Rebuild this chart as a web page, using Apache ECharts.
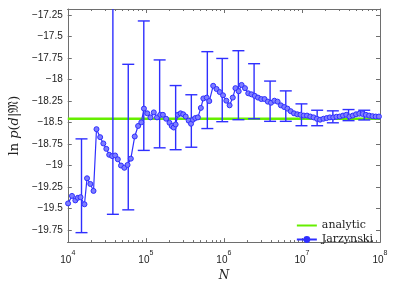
<!DOCTYPE html>
<html><head><meta charset="utf-8">
<script src="https://cdn.jsdelivr.net/npm/echarts@6/dist/echarts.min.js"></script>
<style>html,body{margin:0;padding:0;background:#fff}#c{width:395px;height:287px}</style>
</head><body><div id="c"></div>
<script>
// log10(N) of the Jarzynski estimates
const jarzLog10N = [4.004,4.054,4.097,4.129,4.163,4.214,4.247,4.289,4.330,4.368,4.415,4.456,4.494,4.531,4.569,4.607,4.641,
4.682,4.725,4.766,4.808,4.858,4.901,4.942,4.976,5.018,5.059,5.102,5.143,5.185,5.219,5.260,5.303,5.332,
5.357,5.382,5.411,5.445,5.479,5.511,5.549,5.579,5.604,5.633,5.667,5.705,5.737,5.780,5.813,5.863,5.906,5.947,5.989,
6.031,6.073,6.114,6.148,6.190,6.227,6.270,6.312,6.353,6.396,6.437,6.479,6.521,6.563,6.604,6.647,6.688,6.730,6.773,6.814,6.856,6.898,6.940,6.981,
7.024,7.065,7.107,7.149,7.191,7.232,7.275,7.317,7.358,7.401,7.442,7.484,7.526,7.568,7.609,7.652,7.693,7.735,7.778,7.819,7.861,7.903,7.945,7.986];
const jarzValues = [-19.44,-19.353,-19.405,-19.375,-19.368,-19.45,-19.148,-19.214,-19.295,-18.577,-18.67,-18.743,-18.806,-18.875,-18.89,-18.883,-18.927,
-19.0,-19.026,-18.993,-18.92,-18.662,-18.54,-18.497,-18.338,-18.393,-18.44,-18.382,-18.44,-18.41,-18.41,-18.456,-18.503,-18.54,
-18.558,-18.522,-18.41,-18.393,-18.404,-18.43,-18.478,-18.514,-18.467,-18.448,-18.44,-18.33,-18.22,-18.21,-18.25,-18.073,-18.11,-18.146,-18.183,
-18.246,-18.30,-18.21,-18.1,-18.136,-18.063,-18.1,-18.16,-18.172,-18.19,-18.21,-18.227,-18.227,-18.257,-18.27,-18.246,-18.257,-18.3,-18.32,-18.338,-18.368,-18.393,-18.404,-18.41,
-18.419,-18.419,-18.43,-18.44,-18.456,-18.467,-18.456,-18.448,-18.44,-18.44,-18.433,-18.43,-18.419,-18.41,-18.43,-18.419,-18.404,-18.397,-18.40,-18.41,-18.419,-18.426,-18.43,-18.43];
// error bars
const errLog10N = [4.176,4.578,4.775,4.974,5.177,5.382,5.583,5.788,5.979,6.186,6.387,6.592,6.793,6.994,7.195,7.396,7.597,7.798];
const errLow  = [-19.78,-19.567,-19.515,-18.824,-18.794,-18.816,-18.787,-18.57,-18.49,-18.467,-18.456,-18.486,-18.486,-18.537,-18.537,-18.503,-18.478,-18.47];
const errHigh = [-18.69,-17.0,-17.823,-17.319,-17.772,-18.07,-18.177,-17.676,-17.755,-17.665,-17.816,-18.018,-18.132,-18.283,-18.357,-18.364,-18.349,-18.357];
const analyticValue = -18.456;
const seriesNames = ['analytic','Jarzynski'];
const xMajorTicks = [1e4,1e5,1e6,1e7,1e8];
const xMinorTicks = [2e4,3e4,4e4,5e4,6e4,7e4,8e4,9e4,2e5,3e5,4e5,5e5,6e5,7e5,8e5,9e5,2e6,3e6,4e6,5e6,6e6,7e6,8e6,9e6,2e7,3e7,4e7,5e7,6e7,7e7,8e7,9e7];
const yTicks = [-19.75,-19.5,-19.25,-19,-18.75,-18.5,-18.25,-18,-17.75,-17.5,-17.25];
const X_MIN = 1e4, X_MAX = 1e8, Y_MIN = -19.89, Y_MAX = -17.18;

const BLUE = '#2f2fff', AXIS = '#6e6e6e', GREEN = '#66ee00';
const jarzData = jarzLog10N.map((e,i)=>[Math.pow(10,e), jarzValues[i]]);
const errData = errLog10N.map((e,i)=>[Math.pow(10,e), errLow[i], errHigh[i]]);

function xAxisCfg(pos, ticks, len, labels) {
  return {
    type:'log', logBase:10, min:X_MIN, max:X_MAX, position:pos,
    axisLine:{show:true, lineStyle:{color:AXIS,width:1}},
    axisTick:{show:true, inside:true, length:len, customValues:ticks, lineStyle:{color:AXIS}},
    axisLabel: labels ? {show:true, customValues:ticks, margin:7, color:'#222',
      formatter: v => '{b|10}{s|' + Math.round(Math.log10(v)) + '}',
      rich:{ b:{fontSize:10, fontFamily:'Liberation Sans', lineHeight:16, verticalAlign:'bottom', color:'#222'},
             s:{fontSize:7, fontFamily:'Liberation Sans', lineHeight:9, verticalAlign:'top', color:'#222'} } } : {show:false},
    splitLine:{show:false}, minorTick:{show:false}
  };
}
function yAxisCfg(pos, labels) {
  return {
    type:'value', min:Y_MIN, max:Y_MAX, position:pos,
    axisLine:{show:true, lineStyle:{color:AXIS,width:1}},
    axisTick:{show:true, inside:true, length:4, customValues:yTicks, lineStyle:{color:AXIS}},
    axisLabel: labels ? {show:true, customValues:yTicks, margin:5, color:'#222', fontSize:10, fontFamily:'Liberation Sans',
      formatter: v => String(v).replace('-', '\u2212')} : {show:false},
    splitLine:{show:false}
  };
}

const chart = echarts.init(document.getElementById('c'), null, {renderer:'canvas'});
const xA = [xAxisCfg('bottom', xMajorTicks, 4, true), xAxisCfg('bottom', xMinorTicks, 2, false),
            xAxisCfg('top', xMajorTicks, 4, false), xAxisCfg('top', xMinorTicks, 2, false)];
xA[0].name = 'N'; xA[0].nameLocation = 'middle'; xA[0].nameGap = 19;
xA[0].nameTextStyle = {fontFamily:'DejaVu Serif', fontStyle:'italic', fontSize:12, color:'#222'};
const yA = [yAxisCfg('left', true), yAxisCfg('right', false)];
yA[0].name = '{r|ln }{i|p}{r|(}{i|d}{r||\uD835\uDD10)}';
yA[0].nameLocation = 'middle'; yA[0].nameGap = 42; yA[0].nameRotate = 90;
yA[0].nameTextStyle = {color:'#222', rich:{ r:{fontFamily:'DejaVu Serif', fontSize:13, color:'#222'},
                                             i:{fontFamily:'DejaVu Serif', fontStyle:'italic', fontSize:13, color:'#222'} }};

chart.setOption({
  animation:false,
  backgroundColor:'#fff',
  grid:{left:61, right:15, top:9, bottom:33, containLabel:false},
  xAxis:xA, yAxis:yA,
  legend:{data:[{name:seriesNames[0], itemStyle:{color:'rgba(0,0,0,0)', borderColor:'rgba(0,0,0,0)', opacity:0}},
                {name:seriesNames[1], itemStyle:{color:BLUE, borderColor:BLUE}}],
          orient:'vertical', right:20, bottom:37, itemWidth:20, itemHeight:6, itemGap:3, padding:[5,2,5,5],
          textStyle:{fontFamily:'DejaVu Serif', fontSize:11, color:'#222', overflow:'none'}},
  series:[
    {name:seriesNames[0], type:'line', xAxisIndex:0, yAxisIndex:0, data:[[X_MIN, analyticValue],[X_MAX, analyticValue]],
     symbol:'none', lineStyle:{color:GREEN, width:2.5}, itemStyle:{color:GREEN}, z:2},
    {type:'custom', xAxisIndex:0, yAxisIndex:0, data:errData, encode:{x:0, y:[1,2]}, z:3,
     renderItem:function(params, api){
       const cs = params.coordSys;
       const x = api.value(0), lo = api.value(1), hi = api.value(2);
       const pLo = api.coord([x, lo]), pHi = api.coord([x, hi]);
       const top = cs.y, bot = cs.y + cs.height, w = 6;
       const st = {stroke:BLUE, lineWidth:1.4};
       const ch = [{type:'line', shape:{x1:pLo[0], y1:Math.min(pLo[1],bot), x2:pLo[0], y2:Math.max(pHi[1],top)}, style:st}];
       if (pHi[1] >= top) ch.push({type:'line', shape:{x1:pHi[0]-w, y1:pHi[1], x2:pHi[0]+w, y2:pHi[1]}, style:st});
       if (pLo[1] <= bot) ch.push({type:'line', shape:{x1:pLo[0]-w, y1:pLo[1], x2:pLo[0]+w, y2:pLo[1]}, style:st});
       return {type:'group', children:ch};
     }},
    {name:seriesNames[1], type:'line', xAxisIndex:0, yAxisIndex:0, data:jarzData, z:4,
     symbol:'circle', symbolSize:5, showAllSymbol:true,
     lineStyle:{color:BLUE, width:1.2}, itemStyle:{color:'#7d7dff', borderColor:BLUE, borderWidth:1}}
  ]
});
</script></body></html>
